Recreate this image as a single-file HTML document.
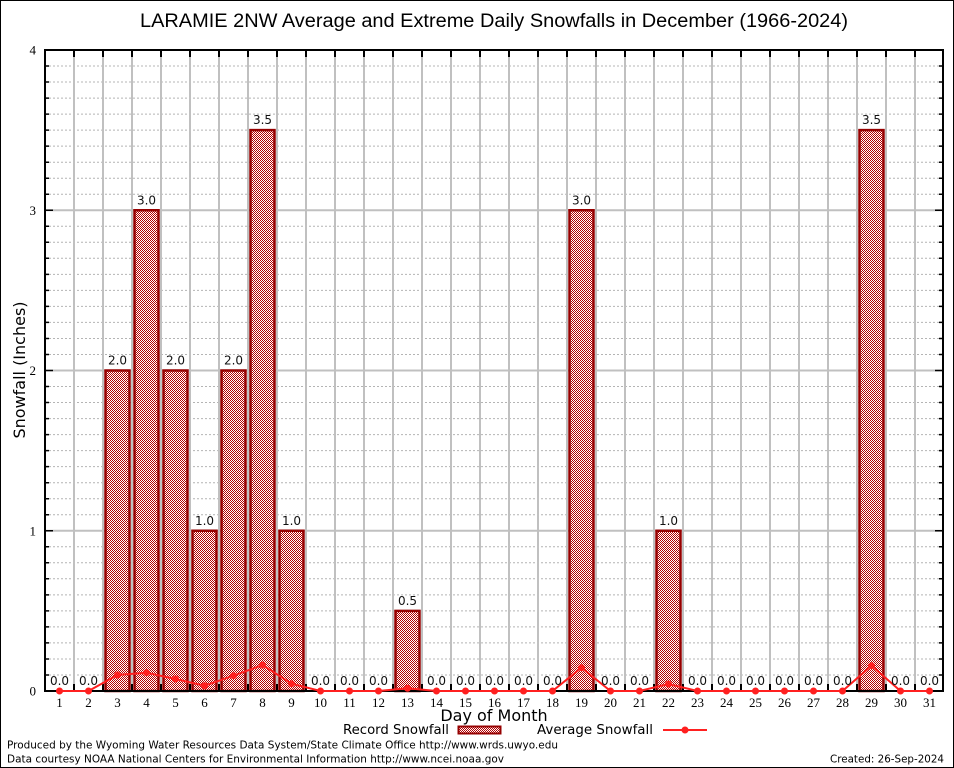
<!DOCTYPE html>
<html><head><meta charset="utf-8"><style>
html,body{margin:0;padding:0;background:#fff;}
svg{display:block;}
</style></head><body>
<svg width="954" height="768" viewBox="0 0 954 768" xmlns="http://www.w3.org/2000/svg">
<defs>
<pattern id="hatch" width="2" height="2" patternUnits="userSpaceOnUse">
<rect width="2" height="2" fill="#ffffff"/>
<rect x="0" y="0" width="1" height="1" fill="#b40000"/>
<rect x="1" y="1" width="1" height="1" fill="#b40000"/>
</pattern>
</defs>
<rect x="0" y="0" width="954" height="768" fill="#fff"/>
<rect x="0.5" y="0.5" width="953" height="767" fill="none" stroke="#000" stroke-width="1"/>

<!-- minor dashed gridlines -->
<path fill="none" stroke="#b4b4b4" stroke-width="1" stroke-dasharray="2,2" d="M45 675H943M45 659H943M45 642.9H943M45 626.9H943M45 610.9H943M45 594.85H943M45 578.8H943M45 562.8H943M45 546.8H943M45 514.7H943M45 498.7H943M45 482.7H943M45 466.65H943M45 450.6H943M45 434.6H943M45 418.6H943M45 402.55H943M45 386.5H943M45 354.5H943M45 338.45H943M45 322.4H943M45 306.4H943M45 290.4H943M45 274.35H943M45 258.3H943M45 242.3H943M45 226.3H943M45 194.2H943M45 178.2H943M45 162.2H943M45 146.15H943M45 130.1H943M45 114.1H943M45 98.1H943M45 82.05H943M45 66H943"/>
<!-- major horizontal gridlines -->
<path fill="none" stroke="#c0c0c0" stroke-width="2" d="M45 530.75H943M45 370.5H943M45 210.25H943"/>
<!-- vertical gridlines -->
<path fill="none" stroke="#c0c0c0" stroke-width="2" d="M74 50V691M103 50V691M132 50V691M161 50V691M190 50V691M219 50V691M248 50V691M277 50V691M306 50V691M335 50V691M364 50V691M393 50V691M422 50V691M451 50V691M480 50V691M509 50V691M538 50V691M567 50V691M596 50V691M625 50V691M654 50V691M683 50V691M712 50V691M741 50V691M770 50V691M799 50V691M828 50V691M857 50V691M886 50V691M915 50V691"/>

<!-- bars -->
<g fill="url(#hatch)" stroke="#960000" stroke-width="2.5">
<rect x="105.5" y="370.5" width="24" height="320.5"/>
<rect x="134.5" y="210.25" width="24" height="480.75"/>
<rect x="163.5" y="370.5" width="24" height="320.5"/>
<rect x="192.5" y="530.75" width="24" height="160.25"/>
<rect x="221.5" y="370.5" width="24" height="320.5"/>
<rect x="250.5" y="130.1" width="24" height="560.9"/>
<rect x="279.5" y="530.75" width="24" height="160.25"/>
<rect x="395.5" y="610.9" width="24" height="80.1"/>
<rect x="569.5" y="210.25" width="24" height="480.75"/>
<rect x="656.5" y="530.75" width="24" height="160.25"/>
<rect x="859.5" y="130.1" width="24" height="560.9"/>
</g>

<!-- axes ticks -->
<path fill="none" stroke="#000" stroke-width="1.5" d="M45 675H49M45 659H49M45 642.9H49M45 626.9H49M45 610.9H49M45 594.85H49M45 578.8H49M45 562.8H49M45 546.8H49M45 514.7H49M45 498.7H49M45 482.7H49M45 466.65H49M45 450.6H49M45 434.6H49M45 418.6H49M45 402.55H49M45 386.5H49M45 354.5H49M45 338.45H49M45 322.4H49M45 306.4H49M45 290.4H49M45 274.35H49M45 258.3H49M45 242.3H49M45 226.3H49M45 194.2H49M45 178.2H49M45 162.2H49M45 146.15H49M45 130.1H49M45 114.1H49M45 98.1H49M45 82.05H49M45 66H49
M943 675H939M943 659H939M943 642.9H939M943 626.9H939M943 610.9H939M943 594.85H939M943 578.8H939M943 562.8H939M943 546.8H939M943 514.7H939M943 498.7H939M943 482.7H939M943 466.65H939M943 450.6H939M943 434.6H939M943 418.6H939M943 402.55H939M943 386.5H939M943 354.5H939M943 338.45H939M943 322.4H939M943 306.4H939M943 290.4H939M943 274.35H939M943 258.3H939M943 242.3H939M943 226.3H939M943 194.2H939M943 178.2H939M943 162.2H939M943 146.15H939M943 130.1H939M943 114.1H939M943 98.1H939M943 82.05H939M943 66H939
M45 530.75H53M45 370.5H53M45 210.25H53M943 530.75H935M943 370.5H935M943 210.25H935"/>
<path fill="none" stroke="#000" stroke-width="2" d="M74 50V57M103 50V57M132 50V57M161 50V57M190 50V57M219 50V57M248 50V57M277 50V57M306 50V57M335 50V57M364 50V57M393 50V57M422 50V57M451 50V57M480 50V57M509 50V57M538 50V57M567 50V57M596 50V57M625 50V57M654 50V57M683 50V57M712 50V57M741 50V57M770 50V57M799 50V57M828 50V57M857 50V57M886 50V57M915 50V57
M74 691V684M103 691V684M132 691V684M161 691V684M190 691V684M219 691V684M248 691V684M277 691V684M306 691V684M335 691V684M364 691V684M393 691V684M422 691V684M451 691V684M480 691V684M509 691V684M538 691V684M567 691V684M596 691V684M625 691V684M654 691V684M683 691V684M712 691V684M741 691V684M770 691V684M799 691V684M828 691V684M857 691V684M886 691V684M915 691V684"/>
<rect x="45" y="50" width="898" height="641" fill="none" stroke="#000" stroke-width="2"/>

<!-- average line -->
<polyline fill="none" stroke="#ff2020" stroke-width="2" points="59.5,691 88.5,691 117.5,675 146.5,672.7 175.5,679 204.5,685.7 233.5,675.7 262.5,665 291.5,683.7 320.5,691 349.5,691 378.5,691 407.5,688.3 436.5,691 465.5,691 494.5,691 523.5,691 552.5,691 581.5,667.7 610.5,691 639.5,691 668.5,684 697.5,691 726.5,691 755.5,691 784.5,691 813.5,691 842.5,691 871.5,665.7 900.5,691 929.5,691"/>
<g fill="#ff2020">
<circle cx="59.5" cy="691" r="3.5"/><circle cx="88.5" cy="691" r="3.5"/><circle cx="117.5" cy="675" r="3.5"/><circle cx="146.5" cy="672.7" r="3.5"/><circle cx="175.5" cy="679" r="3.5"/><circle cx="204.5" cy="685.7" r="3.5"/><circle cx="233.5" cy="675.7" r="3.5"/><circle cx="262.5" cy="665" r="3.5"/><circle cx="291.5" cy="683.7" r="3.5"/><circle cx="320.5" cy="691" r="3.5"/><circle cx="349.5" cy="691" r="3.5"/><circle cx="378.5" cy="691" r="3.5"/><circle cx="407.5" cy="688.3" r="3.5"/><circle cx="436.5" cy="691" r="3.5"/><circle cx="465.5" cy="691" r="3.5"/><circle cx="494.5" cy="691" r="3.5"/><circle cx="523.5" cy="691" r="3.5"/><circle cx="552.5" cy="691" r="3.5"/><circle cx="581.5" cy="667.7" r="3.5"/><circle cx="610.5" cy="691" r="3.5"/><circle cx="639.5" cy="691" r="3.5"/><circle cx="668.5" cy="684" r="3.5"/><circle cx="697.5" cy="691" r="3.5"/><circle cx="726.5" cy="691" r="3.5"/><circle cx="755.5" cy="691" r="3.5"/><circle cx="784.5" cy="691" r="3.5"/><circle cx="813.5" cy="691" r="3.5"/><circle cx="842.5" cy="691" r="3.5"/><circle cx="871.5" cy="665.7" r="3.5"/><circle cx="900.5" cy="691" r="3.5"/><circle cx="929.5" cy="691" r="3.5"/>
</g>

<!-- value labels -->
<g font-family="'DejaVu Sans', 'Liberation Sans', sans-serif" font-size="12" fill="#111" text-anchor="middle">
<text x="59.5" y="685">0.0</text><text x="88.5" y="685">0.0</text><text x="117.5" y="364.5">2.0</text><text x="146.5" y="204.25">3.0</text><text x="175.5" y="364.5">2.0</text><text x="204.5" y="524.75">1.0</text><text x="233.5" y="364.5">2.0</text><text x="262.5" y="124.1">3.5</text><text x="291.5" y="524.75">1.0</text><text x="320.5" y="685">0.0</text><text x="349.5" y="685">0.0</text><text x="378.5" y="685">0.0</text><text x="407.5" y="604.9">0.5</text><text x="436.5" y="685">0.0</text><text x="465.5" y="685">0.0</text><text x="494.5" y="685">0.0</text><text x="523.5" y="685">0.0</text><text x="552.5" y="685">0.0</text><text x="581.5" y="204.25">3.0</text><text x="610.5" y="685">0.0</text><text x="639.5" y="685">0.0</text><text x="668.5" y="524.75">1.0</text><text x="697.5" y="685">0.0</text><text x="726.5" y="685">0.0</text><text x="755.5" y="685">0.0</text><text x="784.5" y="685">0.0</text><text x="813.5" y="685">0.0</text><text x="842.5" y="685">0.0</text><text x="871.5" y="124.1">3.5</text><text x="900.5" y="685">0.0</text><text x="929.5" y="685">0.0</text>
</g>

<!-- x tick labels -->
<g font-family="'Liberation Serif', serif" font-size="13" fill="#000" text-anchor="middle">
<text x="59.5" y="707">1</text><text x="88.5" y="707">2</text><text x="117.5" y="707">3</text><text x="146.5" y="707">4</text><text x="175.5" y="707">5</text><text x="204.5" y="707">6</text><text x="233.5" y="707">7</text><text x="262.5" y="707">8</text><text x="291.5" y="707">9</text><text x="320.5" y="707">10</text><text x="349.5" y="707">11</text><text x="378.5" y="707">12</text><text x="407.5" y="707">13</text><text x="436.5" y="707">14</text><text x="465.5" y="707">15</text><text x="494.5" y="707">16</text><text x="523.5" y="707">17</text><text x="552.5" y="707">18</text><text x="581.5" y="707">19</text><text x="610.5" y="707">20</text><text x="639.5" y="707">21</text><text x="668.5" y="707">22</text><text x="697.5" y="707">23</text><text x="726.5" y="707">24</text><text x="755.5" y="707">25</text><text x="784.5" y="707">26</text><text x="813.5" y="707">27</text><text x="842.5" y="707">28</text><text x="871.5" y="707">29</text><text x="900.5" y="707">30</text><text x="929.5" y="707">31</text>
</g>

<!-- y tick labels -->
<g font-family="'Liberation Serif', serif" font-size="13" fill="#000" text-anchor="end">
<text x="36" y="695.5">0</text><text x="36" y="535.25">1</text><text x="36" y="375">2</text><text x="36" y="214.75">3</text><text x="36" y="54.5">4</text>
</g>

<!-- title -->
<text x="140" y="27" font-family="'Liberation Sans', sans-serif" font-size="19" fill="#000" textLength="708" lengthAdjust="spacingAndGlyphs">LARAMIE 2NW Average and Extreme Daily Snowfalls in December (1966-2024)</text>

<!-- axis titles -->
<text x="494" y="721" font-family="'DejaVu Sans', sans-serif" font-size="16" fill="#000" text-anchor="middle">Day of Month</text>
<text transform="translate(25,370) rotate(-90)" font-family="'DejaVu Sans', sans-serif" font-size="16" fill="#000" text-anchor="middle">Snowfall (Inches)</text>

<!-- legend -->
<text x="343" y="734" font-family="'DejaVu Sans', sans-serif" font-size="13" fill="#000" textLength="106" lengthAdjust="spacingAndGlyphs">Record Snowfall</text>
<rect x="458.5" y="726.5" width="42" height="7" fill="url(#hatch)" stroke="#960000" stroke-width="2"/>
<text x="537" y="734" font-family="'DejaVu Sans', sans-serif" font-size="13" fill="#000" textLength="116" lengthAdjust="spacingAndGlyphs">Average Snowfall</text>
<line x1="663" y1="730" x2="707" y2="730" stroke="#ff2020" stroke-width="2"/>
<circle cx="685" cy="730" r="3.5" fill="#ff2020"/>

<!-- footer -->
<g font-family="'DejaVu Sans', sans-serif" font-size="11" fill="#000">
<text x="7" y="748.5" textLength="551" lengthAdjust="spacingAndGlyphs">Produced by the Wyoming Water Resources Data System/State Climate Office http://www.wrds.uwyo.edu</text>
<text x="7" y="762.5" textLength="497" lengthAdjust="spacingAndGlyphs">Data courtesy NOAA National Centers for Environmental Information http://www.ncei.noaa.gov</text>
<text x="830" y="762.5" textLength="114" lengthAdjust="spacingAndGlyphs">Created: 26-Sep-2024</text>
</g>
</svg>
</body></html>
